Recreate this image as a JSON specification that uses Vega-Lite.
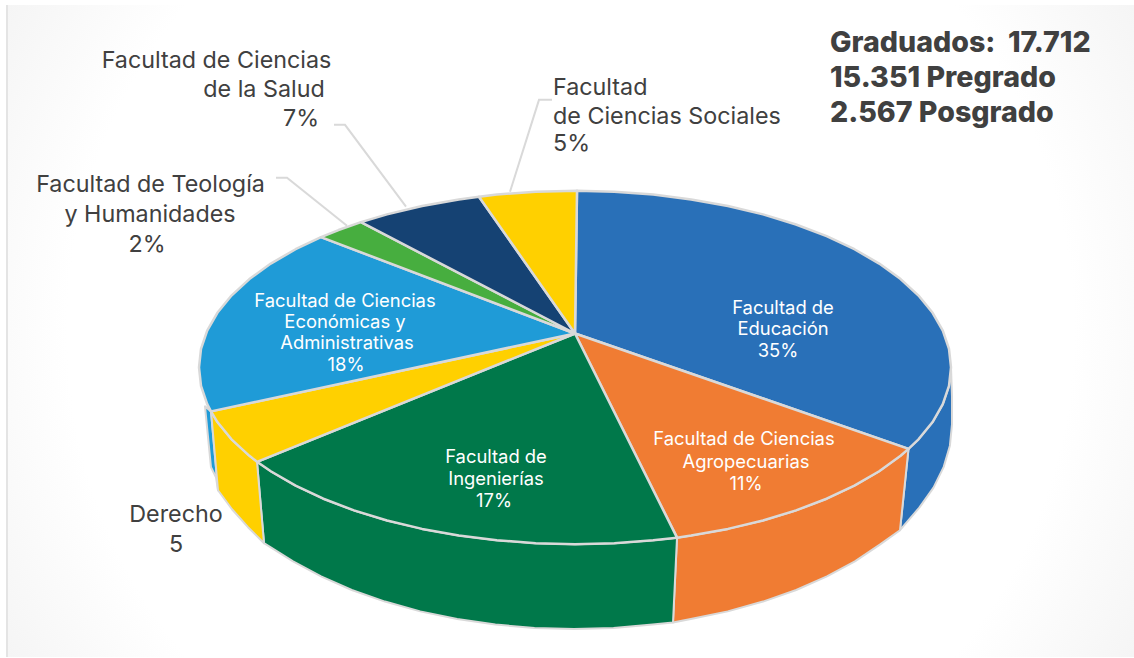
{
"$schema":"https://vega.github.io/schema/vega-lite/v6.json",
"width":1134,"height":658,"autosize":{"type":"fit","contains":"padding"},"padding":0,"background":"white",
"config":{"view":{"stroke":null}},
"datasets":{
"fondo":[{"x":7,"x2":1134,"y":5,"y2":658}],
"paredes":[
{"facultad":"Educación","orden":1,"x":951,"y":368},{"facultad":"Educación","orden":2,"x":949,"y":386.5},{"facultad":"Educación","orden":3,"x":942.8,"y":404.8},{"facultad":"Educación","orden":4,"x":932.6,"y":422.7},{"facultad":"Educación","orden":5,"x":918.5,"y":440},{"facultad":"Educación","orden":6,"x":908.5,"y":449.5},{"facultad":"Educación","orden":7,"x":900,"y":531},{"facultad":"Educación","orden":8,"x":919.3,"y":508.4},{"facultad":"Educación","orden":9,"x":933.5,"y":488.4},{"facultad":"Educación","orden":10,"x":943.7,"y":467.6},{"facultad":"Educación","orden":11,"x":949.9,"y":446.4},{"facultad":"Educación","orden":12,"x":952,"y":425},{"facultad":"Educación","orden":13,"x":952,"y":397},{"facultad":"Educación","orden":14,"x":951,"y":368},
{"facultad":"Agropecuarias","orden":1,"x":677,"y":538.5},{"facultad":"Agropecuarias","orden":2,"x":691.2,"y":536.3},{"facultad":"Agropecuarias","orden":3,"x":727.9,"y":529.7},{"facultad":"Agropecuarias","orden":4,"x":763,"y":521.3},{"facultad":"Agropecuarias","orden":5,"x":796,"y":511.2},{"facultad":"Agropecuarias","orden":6,"x":826.6,"y":499.5},{"facultad":"Agropecuarias","orden":7,"x":854.4,"y":486.4},{"facultad":"Agropecuarias","orden":8,"x":879.2,"y":472},{"facultad":"Agropecuarias","orden":9,"x":900.6,"y":456.5},{"facultad":"Agropecuarias","orden":10,"x":908.5,"y":449.5},{"facultad":"Agropecuarias","orden":11,"x":900,"y":531},{"facultad":"Agropecuarias","orden":12,"x":879.8,"y":545.5},{"facultad":"Agropecuarias","orden":13,"x":854.9,"y":562.2},{"facultad":"Agropecuarias","orden":14,"x":826.9,"y":577.3},{"facultad":"Agropecuarias","orden":15,"x":796.2,"y":590.9},{"facultad":"Agropecuarias","orden":16,"x":763,"y":602.5},{"facultad":"Agropecuarias","orden":17,"x":727.7,"y":612.3},{"facultad":"Agropecuarias","orden":18,"x":690.8,"y":620},{"facultad":"Agropecuarias","orden":19,"x":673,"y":623.5},{"facultad":"Agropecuarias","orden":20,"x":677,"y":538.5},
{"facultad":"Ingenierías","orden":1,"x":677,"y":538.5},{"facultad":"Ingenierías","orden":2,"x":653.2,"y":541.1},{"facultad":"Ingenierías","orden":3,"x":614.3,"y":544},{"facultad":"Ingenierías","orden":4,"x":575,"y":545},{"facultad":"Ingenierías","orden":5,"x":535.7,"y":544},{"facultad":"Ingenierías","orden":6,"x":496.8,"y":541.1},{"facultad":"Ingenierías","orden":7,"x":458.8,"y":536.3},{"facultad":"Ingenierías","orden":8,"x":422.1,"y":529.7},{"facultad":"Ingenierías","orden":9,"x":387,"y":521.3},{"facultad":"Ingenierías","orden":10,"x":354,"y":511.2},{"facultad":"Ingenierías","orden":11,"x":323.4,"y":499.5},{"facultad":"Ingenierías","orden":12,"x":295.6,"y":486.4},{"facultad":"Ingenierías","orden":13,"x":270.8,"y":472},{"facultad":"Ingenierías","orden":14,"x":257,"y":462.5},{"facultad":"Ingenierías","orden":15,"x":264,"y":544},{"facultad":"Ingenierías","orden":16,"x":293.1,"y":562.2},{"facultad":"Ingenierías","orden":17,"x":321.1,"y":577.3},{"facultad":"Ingenierías","orden":18,"x":351.8,"y":590.9},{"facultad":"Ingenierías","orden":19,"x":385,"y":602.5},{"facultad":"Ingenierías","orden":20,"x":420.3,"y":612.3},{"facultad":"Ingenierías","orden":21,"x":457.2,"y":620},{"facultad":"Ingenierías","orden":22,"x":495.4,"y":625.5},{"facultad":"Ingenierías","orden":23,"x":534.5,"y":628.9},{"facultad":"Ingenierías","orden":24,"x":574,"y":630},{"facultad":"Ingenierías","orden":25,"x":613.5,"y":628.9},{"facultad":"Ingenierías","orden":26,"x":652.6,"y":625.5},{"facultad":"Ingenierías","orden":27,"x":673,"y":623.5},{"facultad":"Ingenierías","orden":28,"x":677,"y":538.5},
{"facultad":"Económicas","orden":1,"x":211,"y":412},{"facultad":"Económicas","orden":2,"x":205,"y":407},{"facultad":"Económicas","orden":3,"x":211,"y":468},{"facultad":"Económicas","orden":4,"x":216,"y":478},{"facultad":"Económicas","orden":5,"x":218,"y":491},{"facultad":"Económicas","orden":6,"x":211,"y":412},
{"facultad":"Derecho","orden":1,"x":257,"y":462.5},{"facultad":"Derecho","orden":2,"x":249.4,"y":456.5},{"facultad":"Derecho","orden":3,"x":231.5,"y":440},{"facultad":"Derecho","orden":4,"x":217.4,"y":422.7},{"facultad":"Derecho","orden":5,"x":211,"y":412},{"facultad":"Derecho","orden":6,"x":218,"y":491},{"facultad":"Derecho","orden":7,"x":232,"y":510},{"facultad":"Derecho","orden":8,"x":248,"y":528},{"facultad":"Derecho","orden":9,"x":264,"y":544},{"facultad":"Derecho","orden":10,"x":257,"y":462.5}
],
"tapa":[
{"facultad":"Educación","orden":1,"x":575,"y":334},{"facultad":"Educación","orden":2,"x":577,"y":191},{"facultad":"Educación","orden":3,"x":614.3,"y":192},{"facultad":"Educación","orden":4,"x":653.2,"y":194.9},{"facultad":"Educación","orden":5,"x":691.2,"y":199.7},{"facultad":"Educación","orden":6,"x":727.9,"y":206.3},{"facultad":"Educación","orden":7,"x":763,"y":214.7},{"facultad":"Educación","orden":8,"x":796,"y":224.8},{"facultad":"Educación","orden":9,"x":826.6,"y":236.5},{"facultad":"Educación","orden":10,"x":854.4,"y":249.6},{"facultad":"Educación","orden":11,"x":879.2,"y":264},{"facultad":"Educación","orden":12,"x":900.6,"y":279.5},{"facultad":"Educación","orden":13,"x":918.5,"y":296},{"facultad":"Educación","orden":14,"x":932.6,"y":313.3},{"facultad":"Educación","orden":15,"x":942.8,"y":331.2},{"facultad":"Educación","orden":16,"x":949,"y":349.5},{"facultad":"Educación","orden":17,"x":951,"y":368},{"facultad":"Educación","orden":18,"x":949,"y":386.5},{"facultad":"Educación","orden":19,"x":942.8,"y":404.8},{"facultad":"Educación","orden":20,"x":932.6,"y":422.7},{"facultad":"Educación","orden":21,"x":918.5,"y":440},{"facultad":"Educación","orden":22,"x":908.5,"y":449.5},{"facultad":"Educación","orden":23,"x":575,"y":334},
{"facultad":"Agropecuarias","orden":1,"x":575,"y":334},{"facultad":"Agropecuarias","orden":2,"x":908.5,"y":449.5},{"facultad":"Agropecuarias","orden":3,"x":900.6,"y":456.5},{"facultad":"Agropecuarias","orden":4,"x":879.2,"y":472},{"facultad":"Agropecuarias","orden":5,"x":854.4,"y":486.4},{"facultad":"Agropecuarias","orden":6,"x":826.6,"y":499.5},{"facultad":"Agropecuarias","orden":7,"x":796,"y":511.2},{"facultad":"Agropecuarias","orden":8,"x":763,"y":521.3},{"facultad":"Agropecuarias","orden":9,"x":727.9,"y":529.7},{"facultad":"Agropecuarias","orden":10,"x":691.2,"y":536.3},{"facultad":"Agropecuarias","orden":11,"x":677,"y":538.5},{"facultad":"Agropecuarias","orden":12,"x":575,"y":334},
{"facultad":"Ingenierías","orden":1,"x":575,"y":334},{"facultad":"Ingenierías","orden":2,"x":677,"y":538.5},{"facultad":"Ingenierías","orden":3,"x":653.2,"y":541.1},{"facultad":"Ingenierías","orden":4,"x":614.3,"y":544},{"facultad":"Ingenierías","orden":5,"x":575,"y":545},{"facultad":"Ingenierías","orden":6,"x":535.7,"y":544},{"facultad":"Ingenierías","orden":7,"x":496.8,"y":541.1},{"facultad":"Ingenierías","orden":8,"x":458.8,"y":536.3},{"facultad":"Ingenierías","orden":9,"x":422.1,"y":529.7},{"facultad":"Ingenierías","orden":10,"x":387,"y":521.3},{"facultad":"Ingenierías","orden":11,"x":354,"y":511.2},{"facultad":"Ingenierías","orden":12,"x":323.4,"y":499.5},{"facultad":"Ingenierías","orden":13,"x":295.6,"y":486.4},{"facultad":"Ingenierías","orden":14,"x":270.8,"y":472},{"facultad":"Ingenierías","orden":15,"x":257,"y":462.5},{"facultad":"Ingenierías","orden":16,"x":575,"y":334},
{"facultad":"Derecho","orden":1,"x":575,"y":334},{"facultad":"Derecho","orden":2,"x":257,"y":462.5},{"facultad":"Derecho","orden":3,"x":249.4,"y":456.5},{"facultad":"Derecho","orden":4,"x":231.5,"y":440},{"facultad":"Derecho","orden":5,"x":217.4,"y":422.7},{"facultad":"Derecho","orden":6,"x":211,"y":412},{"facultad":"Derecho","orden":7,"x":575,"y":334},
{"facultad":"Económicas","orden":1,"x":575,"y":334},{"facultad":"Económicas","orden":2,"x":211,"y":412},{"facultad":"Económicas","orden":3,"x":207.2,"y":404.8},{"facultad":"Económicas","orden":4,"x":201,"y":386.5},{"facultad":"Económicas","orden":5,"x":199,"y":368},{"facultad":"Económicas","orden":6,"x":201,"y":349.5},{"facultad":"Económicas","orden":7,"x":207.2,"y":331.2},{"facultad":"Económicas","orden":8,"x":217.4,"y":313.3},{"facultad":"Económicas","orden":9,"x":231.5,"y":296},{"facultad":"Económicas","orden":10,"x":249.4,"y":279.5},{"facultad":"Económicas","orden":11,"x":270.8,"y":264},{"facultad":"Económicas","orden":12,"x":295.6,"y":249.6},{"facultad":"Económicas","orden":13,"x":321,"y":237.5},{"facultad":"Económicas","orden":14,"x":575,"y":334},
{"facultad":"Teología","orden":1,"x":575,"y":334},{"facultad":"Teología","orden":2,"x":321,"y":237.5},{"facultad":"Teología","orden":3,"x":338.5,"y":230.4},{"facultad":"Teología","orden":4,"x":361,"y":222.5},{"facultad":"Teología","orden":5,"x":575,"y":334},
{"facultad":"Salud","orden":1,"x":575,"y":334},{"facultad":"Salud","orden":2,"x":361,"y":222.5},{"facultad":"Salud","orden":3,"x":387,"y":214.7},{"facultad":"Salud","orden":4,"x":422.1,"y":206.3},{"facultad":"Salud","orden":5,"x":458.8,"y":199.7},{"facultad":"Salud","orden":6,"x":479,"y":197},{"facultad":"Salud","orden":7,"x":575,"y":334},
{"facultad":"Sociales","orden":1,"x":575,"y":334},{"facultad":"Sociales","orden":2,"x":479,"y":197},{"facultad":"Sociales","orden":3,"x":496.8,"y":194.9},{"facultad":"Sociales","orden":4,"x":535.7,"y":192},{"facultad":"Sociales","orden":5,"x":577,"y":191},{"facultad":"Sociales","orden":6,"x":575,"y":334}
],
"guias":[
{"facultad":"Salud","orden":1,"x":334,"y":125},{"facultad":"Salud","orden":2,"x":345,"y":125},{"facultad":"Salud","orden":3,"x":406,"y":207},
{"facultad":"Teología","orden":1,"x":276,"y":178},{"facultad":"Teología","orden":2,"x":287,"y":178},{"facultad":"Teología","orden":3,"x":347,"y":226},
{"facultad":"Sociales","orden":1,"x":552,"y":100},{"facultad":"Sociales","orden":2,"x":539,"y":100},{"facultad":"Sociales","orden":3,"x":510,"y":192}
],
"exterior":[
{"texto":"Facultad de Ciencias","x":216.5,"y":61},{"texto":"de la Salud","x":264,"y":90},{"texto":"7%","x":301,"y":119},
{"texto":"Facultad de Teología","x":150.5,"y":185},{"texto":"y Humanidades","x":150,"y":215},{"texto":"2%","x":147,"y":245},
{"texto":"Derecho","x":176,"y":516},{"texto":"5","x":176,"y":546}
],
"sociales":[{"texto":"Facultad","x":553,"y":88},{"texto":"de Ciencias Sociales","x":553,"y":117},{"texto":"5%","x":553,"y":144}],
"interior":[
{"texto":"Facultad de","x":783,"y":308},{"texto":"Educación","x":783,"y":330},{"texto":"35%","x":778,"y":352},
{"texto":"Facultad de Ciencias","x":744,"y":440},{"texto":"Agropecuarias","x":746,"y":463},{"texto":"11%","x":746,"y":485},
{"texto":"Facultad de","x":496,"y":458},{"texto":"Ingenierías","x":496,"y":480},{"texto":"17%","x":494,"y":502},
{"texto":"Facultad de Ciencias","x":345,"y":301},{"texto":"Económicas y","x":345,"y":322.5},{"texto":"Administrativas","x":347,"y":344},{"texto":"18%","x":346,"y":366}
],
"titulo":[{"texto":"Graduados:\u00a0\u00a017.712","x":830,"y":43},{"texto":"15.351 Pregrado","x":830,"y":78},{"texto":"2.567 Posgrado","x":830,"y":113}]
},
"encoding":{
"x":{"field":"x","type":"quantitative","scale":{"domain":[0,1134]},"axis":null},
"y":{"field":"y","type":"quantitative","scale":{"domain":[658,0]},"axis":null}
},
"layer":[
{"data":{"name":"fondo"},"mark":{"type":"rect","color":{"gradient":"radial","x1":0.5,"y1":0.5,"r1":0,"x2":0.5,"y2":0.5,"r2":0.72,"stops":[{"offset":0,"color":"#ffffff"},{"offset":0.62,"color":"#ffffff"},{"offset":1,"color":"#eaeaea"}]}},"encoding":{"x2":{"field":"x2"},"y2":{"field":"y2"}}},
{"data":{"name":"fondo"},"mark":{"type":"rule","stroke":"#e4e4e4","strokeWidth":2},"encoding":{"y2":{"field":"y2"}}},
{"data":{"name":"paredes"},"mark":{"type":"line","stroke":"#d9d9d9","strokeWidth":2,"strokeJoin":"round"},
"encoding":{"order":{"field":"orden"},"detail":{"field":"facultad"},"fill":{"field":"facultad","type":"nominal","legend":null,"scale":{"domain":["Educación","Agropecuarias","Ingenierías","Derecho","Económicas","Teología","Salud","Sociales"],"range":["#2970b8","#f07c33","#00784a","#ffd000","#1f9bd7","#47ae3f","#154273","#ffd000"]}}}},
{"data":{"name":"tapa"},"mark":{"type":"line","stroke":"#d9d9d9","strokeWidth":2.5,"strokeJoin":"round"},
"encoding":{"order":{"field":"orden"},"detail":{"field":"facultad"},"fill":{"field":"facultad","type":"nominal","legend":null}}},
{"data":{"name":"guias"},"mark":{"type":"line","stroke":"#d9d9d9","strokeWidth":2},"encoding":{"order":{"field":"orden"},"detail":{"field":"facultad"}}},
{"data":{"name":"exterior"},"mark":{"type":"text","font":"Inter","fontSize":23.3,"fill":"#404040","align":"center","baseline":"middle"},"encoding":{"text":{"field":"texto"}}},
{"data":{"name":"sociales"},"mark":{"type":"text","font":"Inter","fontSize":23.3,"fill":"#404040","align":"left","baseline":"middle"},"encoding":{"text":{"field":"texto"}}},
{"data":{"name":"interior"},"mark":{"type":"text","font":"Inter","fontSize":18.4,"fill":"#ffffff","align":"center","baseline":"middle"},"encoding":{"text":{"field":"texto"}}},
{"data":{"name":"titulo"},"mark":{"type":"text","font":"Inter","fontSize":28.6,"fontWeight":800,"fill":"#404040","align":"left","baseline":"middle"},"encoding":{"text":{"field":"texto"}}}
]
}
